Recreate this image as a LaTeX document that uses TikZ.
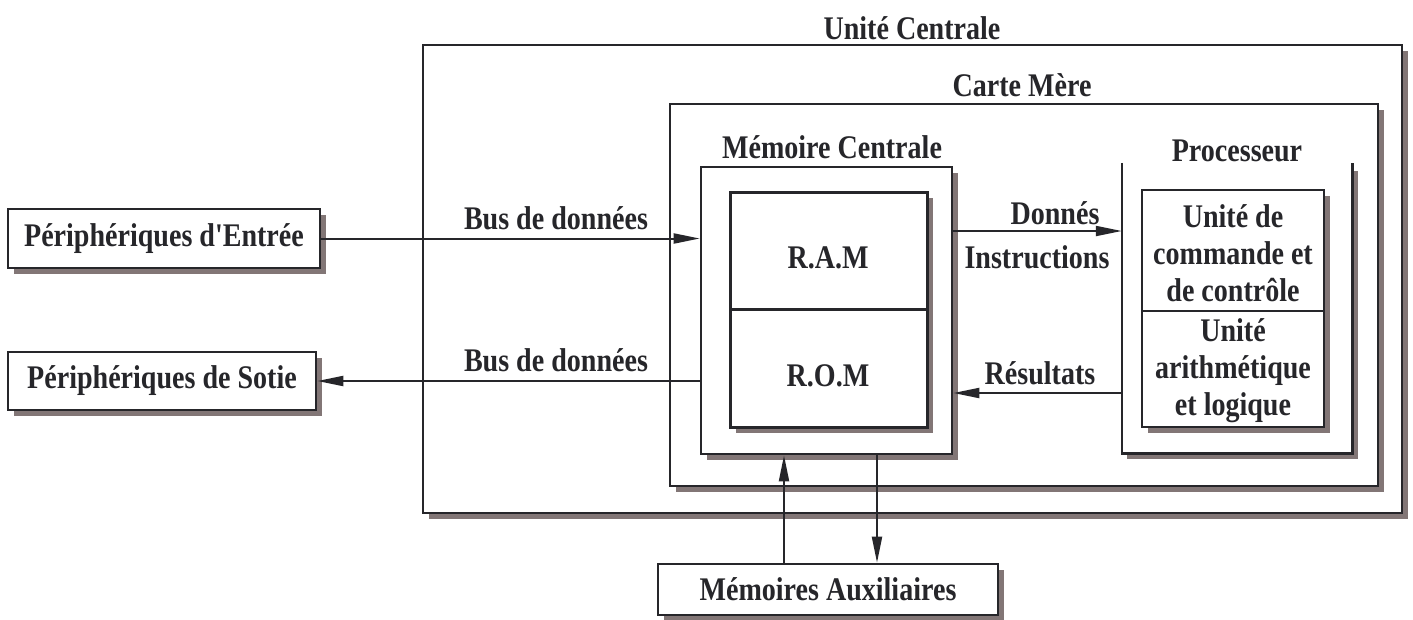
\documentclass[tikz,border=0pt]{standalone}
\usepackage{fontspec}
\setmainfont[FakeStretch=0.85,Ligatures=TeXOff]{Liberation Serif}
\usetikzlibrary{arrows.meta,shadows}
\definecolor{shd}{RGB}{130,118,118}
\definecolor{ink}{RGB}{38,38,42}
\newcommand{\lblfont}{\fontsize{33}{37}\selectfont\bfseries}
\tikzset{
  sbox/.style={draw=ink, line width=2.6pt, fill=white, inner sep=0pt, font=\lblfont, text=ink,
    drop shadow={fill=shd, opacity=1, shadow xshift=5.5pt, shadow yshift=-5.5pt}},
  pbox/.style={draw=ink, line width=2.6pt, fill=white, inner sep=0pt, font=\lblfont, text=ink},
  lbl/.style={font=\lblfont, text=ink, inner sep=0pt, align=center},
  conn/.style={draw=ink, line width=2pt, -{Triangle[length=26pt,width=10pt]}},
}
\begin{document}
\begin{tikzpicture}[x=1pt,y=-1pt]
\useasboundingbox (0,0) rectangle (1413,619);
% outer boxes
\node[sbox, minimum width=979pt, minimum height=468pt] (uc) at (912.5,279) {};
\node[lbl] (uclbl) at (912,28) {Unité Centrale};
\node[sbox, minimum width=708pt, minimum height=382pt] (cm) at (1024,295) {};
\node[lbl] (cmlbl) at (1022,85) {Carte Mère};
% memoire centrale
\node[sbox, minimum width=251pt, minimum height=287pt] (memc) at (826.5,310.5) {};
\node[lbl] (memclbl) at (832,147) {Mémoire Centrale};
\fill[shd] (735.5,197.5) rectangle (932.5,432.5);
\node[pbox, line width=3pt, minimum width=197pt, minimum height=117pt] (ram) at (828.5,250.5) {};
\node[lbl] (ramt) at (828,258) {R.A.M};
\node[pbox, line width=3pt, minimum width=197pt, minimum height=118pt] (rom) at (828.5,368) {};
\node[lbl] (romt) at (828,376) {R.O.M};
% processeur (open top)
\node[inner sep=0pt, minimum width=230pt, minimum height=290pt] (proc) at (1237,308) {};
\fill[shd] ([shift={(5.5pt,-8pt)}]proc.north east) rectangle ([shift={(5.5pt,-5.5pt)}]proc.south west);
\fill[white] (proc.north west) rectangle (proc.south east);
\draw[ink, line width=2.6pt] (proc.north west) -- (proc.south west) -- (proc.south east) -- (proc.north east);
\node[lbl] (proclbl) at (1237,151) {Processeur};
\fill[shd] (1147.5,195.5) rectangle (1329.5,432.5);
\node[pbox, minimum width=182pt, minimum height=121pt] (ucc) at (1233,250.5) {};
\node[lbl] (ucct) at (1233,253) {Unité de\\commande et\\de contrôle};
\node[pbox, minimum width=182pt, minimum height=116pt] (ual) at (1233,369) {};
\node[lbl] (ualt) at (1233,371) {Unité\\arithmétique\\et logique};
% peripherals
\node[sbox, minimum width=312pt, minimum height=59pt] (ent) at (164,238.5) {Périphériques d'Entrée};
\node[sbox, minimum width=308pt, minimum height=58pt] (sor) at (162,381) {Périphériques de Sotie};
\node[sbox, minimum width=340pt, minimum height=51pt] (aux) at (828,589.5) {Mémoires Auxiliaires};
% connectors
\draw[conn] (ent.east) -- (ent.east -| memc.west);
\node[lbl] (bus1) at (556,218) {Bus de données};
\draw[conn] (memc.west |- sor.east) -- (sor.east);
\node[lbl] (bus2) at (556,360) {Bus de données};
\draw[conn] ([yshift=79.5pt]memc.east) -- ([yshift=79.5pt]memc.east -| proc.west);
\node[lbl] (don) at (1055,213) {Donnés};
\node[lbl] (ins) at (1037,257) {Instructions};
\draw[conn] ([yshift=-82.5pt]memc.east -| proc.west) -- ([yshift=-82.5pt]memc.east);
\node[lbl] (res) at (1040,373) {Résultats};
\draw[conn] ([xshift=-44pt]aux.north) -- ([xshift=-44pt]aux.north |- memc.south);
\draw[conn] ([xshift=50.5pt]memc.south) -- ([xshift=50.5pt]memc.south |- aux.north);
\end{tikzpicture}
\end{document}
